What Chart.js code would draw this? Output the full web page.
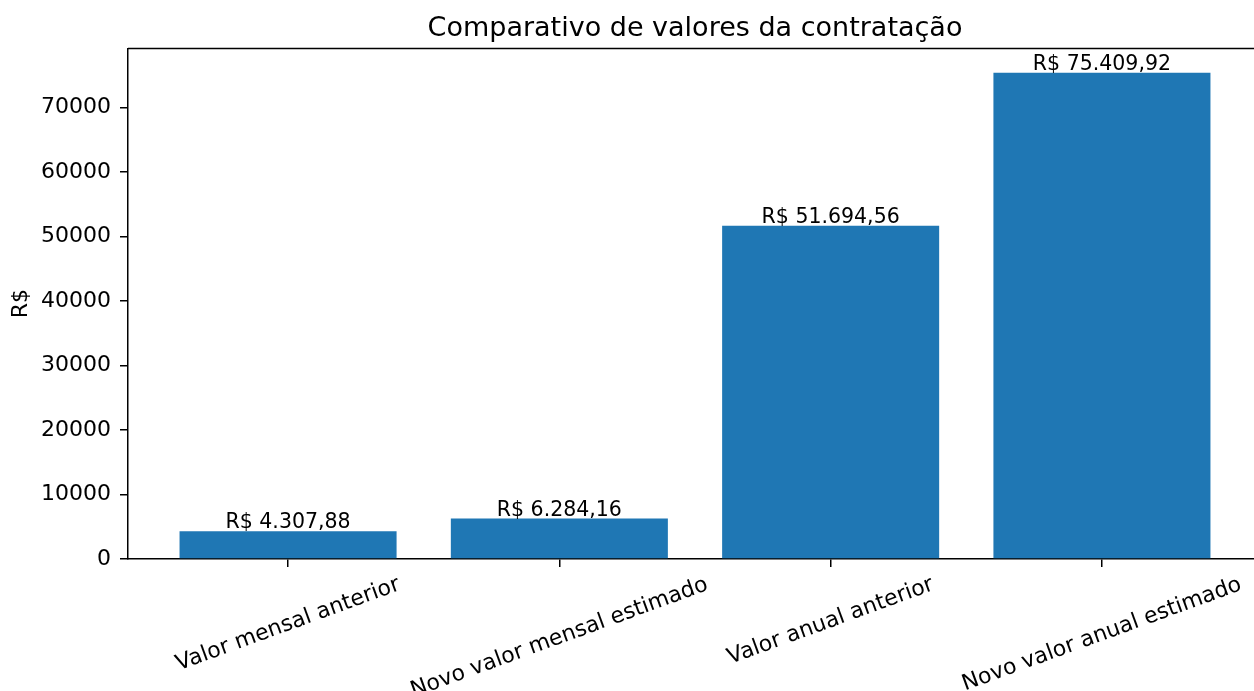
<!DOCTYPE html>
<html lang="pt">
<head>
    <meta charset="UTF-8">
    <title>Comparativo de valores da contratação</title>
    <script src="https://cdn.jsdelivr.net/npm/chart.js"></script>
    <style>
        body {
            margin: 0;
            background-color: #ffffff;
            overflow: hidden;
        }

        .chart-box {
            width: 1264px;
            height: 691px;
        }
    </style>
</head>
<body>
    <div class="chart-box">
        <canvas id="barChart"></canvas>
    </div>

    <script>
        // dados do gráfico
        const categorias = ["Valor mensal anterior", "Novo valor mensal estimado", "Valor anual anterior", "Novo valor anual estimado"];
        const valores = [4307.88, 6284.16, 51694.56, 75409.92];
        const ticksY = [0, 10000, 20000, 30000, 40000, 50000, 60000, 70000];

        const FONTE = "'DejaVu Sans', sans-serif";
        const COR_BARRA = '#1f77b4';
        const TAM_TICK = 22;

        // formata em reais: R$ 4.307,88
        function formatarReal(v) {
            const partes = v.toFixed(2).split('.');
            const inteiro = partes[0].replace(/\B(?=(\d{3})+(?!\d))/g, '.');
            return 'R$ ' + inteiro + ',' + partes[1];
        }

        // rótulos de valor acima das barras + borda superior + rótulos do eixo x
        const extras = {
            id: 'extras',
            afterDatasetsDraw(chart) {
                const ctx = chart.ctx;
                const meta = chart.getDatasetMeta(0);
                ctx.save();
                ctx.fillStyle = '#000';
                ctx.font = '20.5px ' + FONTE;
                ctx.textAlign = 'center';
                ctx.textBaseline = 'bottom';
                meta.data.forEach((bar, i) => {
                    ctx.fillText(formatarReal(valores[i]), bar.x, bar.y + 2);
                });
                ctx.restore();
            },
            afterDraw(chart) {
                const ctx = chart.ctx;
                const area = chart.chartArea;
                ctx.save();
                ctx.strokeStyle = '#000';
                ctx.lineWidth = 1.5;
                ctx.beginPath();
                ctx.moveTo(area.left, area.top);
                ctx.lineTo(area.right, area.top);
                ctx.lineTo(area.right, area.bottom);
                ctx.stroke();

                // rótulos girados 20°, centrados no tick
                const xScale = chart.scales.x;
                const ang = 20 * Math.PI / 180;
                ctx.fillStyle = '#000';
                ctx.font = TAM_TICK + 'px ' + FONTE;
                ctx.textAlign = 'center';
                ctx.textBaseline = 'middle';
                categorias.forEach((txt, i) => {
                    const w = ctx.measureText(txt).width;
                    const h = TAM_TICK * 1.17;
                    const altura = w * Math.sin(ang) + h * Math.cos(ang);
                    const x = xScale.getPixelForValue(i);
                    const y = area.bottom + 13 + altura / 2;
                    ctx.save();
                    ctx.translate(x, y);
                    ctx.rotate(-ang);
                    ctx.fillText(txt, 0, 0);
                    ctx.restore();
                });
                ctx.restore();
            }
        };

        const ctx = document.getElementById('barChart').getContext('2d');
        new Chart(ctx, {
            type: 'bar',
            data: {
                datasets: [{
                    data: valores.map((v, i) => ({ x: i, y: v })),
                    backgroundColor: COR_BARRA,
                    borderWidth: 0,
                    barPercentage: 0.8,
                    categoryPercentage: 1.0
                }]
            },
            plugins: [extras],
            options: {
                responsive: true,
                maintainAspectRatio: false,
                animation: false,
                layout: {
                    padding: { left: 0, right: 2, top: 0, bottom: 0 }
                },
                plugins: {
                    legend: { display: false },
                    tooltip: { enabled: false },
                    title: {
                        display: true,
                        text: 'Comparativo de valores da contratação',
                        fullSize: false,
                        color: '#000',
                        font: { family: FONTE, size: 27, weight: 'normal' },
                        padding: { top: 13, bottom: 3 }
                    }
                },
                scales: {
                    x: {
                        type: 'linear',
                        offset: false,
                        min: -0.59,
                        max: 3.59,
                        afterBuildTicks(scale) {
                            scale.ticks = categorias.map((c, i) => ({ value: i }));
                        },
                        afterFit(scale) {
                            scale.height = 132;
                        },
                        ticks: { display: false },
                        grid: {
                            offset: false,
                            drawOnChartArea: false,
                            drawTicks: true,
                            tickLength: 8,
                            color: '#000',
                            lineWidth: 1.5
                        },
                        border: { color: '#000', width: 1.5 }
                    },
                    y: {
                        min: 0,
                        max: 79180,
                        afterBuildTicks(scale) {
                            scale.ticks = ticksY.map(v => ({ value: v }));
                        },
                        afterFit(scale) {
                            scale.width = 128;
                        },
                        ticks: {
                            color: '#000',
                            font: { family: FONTE, size: TAM_TICK },
                            padding: 9,
                            callback: v => String(v)
                        },
                        grid: {
                            drawOnChartArea: false,
                            drawTicks: true,
                            tickLength: 8,
                            color: '#000',
                            lineWidth: 1.5
                        },
                        border: { color: '#000', width: 1.5 },
                        title: {
                            display: true,
                            text: 'R$',
                            color: '#000',
                            font: { family: FONTE, size: TAM_TICK },
                            padding: { top: 8, bottom: 0 }
                        }
                    }
                }
            }
        });
    </script>
</body>
</html>
